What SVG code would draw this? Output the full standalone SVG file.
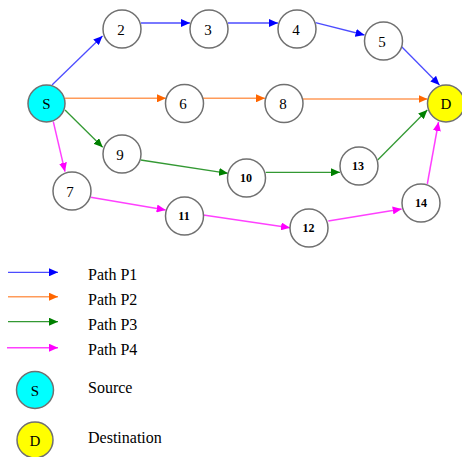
<svg xmlns="http://www.w3.org/2000/svg" width="462" height="457" viewBox="0 0 462 457">
<style>
.n{fill:#fff;stroke:#707070;stroke-width:1.5}
.t{font-family:"Liberation Serif","Times New Roman",serif;font-size:15px;fill:#000;text-anchor:middle}
.b{font-family:"Liberation Serif","Times New Roman",serif;font-size:12px;font-weight:bold;fill:#000;text-anchor:middle}
.lg{font-family:"Liberation Serif","Times New Roman",serif;font-size:16px;fill:#000}
.p1{stroke:#0000ff;stroke-opacity:0.7;stroke-width:1.3;fill:none;marker-end:url(#a1)}
.p2{stroke:#ff6600;stroke-opacity:0.65;stroke-width:1.6;fill:none;marker-end:url(#a2)}
.p3{stroke:#008000;stroke-opacity:0.8;stroke-width:1.3;fill:none;marker-end:url(#a3)}
.p4{stroke:#ff00ff;stroke-opacity:0.75;stroke-width:1.5;fill:none;marker-end:url(#a4)}
</style>
<defs>
<marker id="a1" markerUnits="userSpaceOnUse" markerWidth="10" markerHeight="8" refX="9" refY="4" orient="auto"><path d="M0,0 L9,4 L0,8 z" fill="#0000ff"/></marker>
<marker id="a2" markerUnits="userSpaceOnUse" markerWidth="10" markerHeight="8" refX="9" refY="4" orient="auto"><path d="M0,0 L9,4 L0,8 z" fill="#ff6600"/></marker>
<marker id="a3" markerUnits="userSpaceOnUse" markerWidth="10" markerHeight="8" refX="9" refY="4" orient="auto"><path d="M0,0 L9,4 L0,8 z" fill="#008000"/></marker>
<marker id="a4" markerUnits="userSpaceOnUse" markerWidth="10" markerHeight="8" refX="9" refY="4" orient="auto"><path d="M0,0 L9,4 L0,8 z" fill="#ff00ff"/></marker>
</defs>
<g id="connectors">
<line class="p1" x1="52" y1="85" x2="102.5" y2="36"/>
<line class="p1" x1="141" y1="23" x2="190" y2="23"/>
<line class="p1" x1="228" y1="23" x2="278" y2="23"/>
<line class="p1" x1="315.5" y1="22.7" x2="364.5" y2="35"/>
<line class="p1" x1="401.7" y1="46.7" x2="439.5" y2="85"/>
<line class="p2" x1="65" y1="98.3" x2="166" y2="98.3"/>
<line class="p2" x1="203" y1="98.3" x2="265" y2="98.3"/>
<line class="p2" x1="303" y1="99" x2="427.5" y2="99"/>
<line class="p3" x1="65" y1="110" x2="102.7" y2="147.3"/>
<line class="p3" x1="140.7" y1="160" x2="228" y2="173.3"/>
<line class="p3" x1="265.7" y1="172.3" x2="340" y2="172.3"/>
<line class="p3" x1="377.7" y1="160" x2="427.3" y2="110"/>
<line class="p4" x1="53.3" y1="121.7" x2="65" y2="171.7"/>
<line class="p4" x1="90.7" y1="197.3" x2="165.7" y2="210"/>
<line class="p4" x1="203.3" y1="215" x2="290" y2="227.7"/>
<line class="p4" x1="328.3" y1="221" x2="401.7" y2="209"/>
<line class="p4" x1="427.3" y1="184" x2="438.5" y2="122"/>
</g>
<g id="node-S"><circle class="n" cx="46.5" cy="103.5" r="18.5" style="fill:#00ffff"/><text class="t" x="46.5" y="109">S</text></g>
<g id="node-2"><circle class="n" cx="122" cy="29" r="19"/><text class="t" x="121" y="34.5">2</text></g>
<g id="node-3"><circle class="n" cx="209" cy="29" r="19"/><text class="t" x="208" y="34.5">3</text></g>
<g id="node-4"><circle class="n" cx="297" cy="29" r="19"/><text class="t" x="296" y="34.5">4</text></g>
<g id="node-5"><circle class="n" cx="383.5" cy="41" r="19"/><text class="t" x="382" y="46.5">5</text></g>
<g id="node-D"><circle class="n" cx="446" cy="103.5" r="18.5" style="fill:#ffff00"/><text class="t" x="446" y="109">D</text></g>
<g id="node-6"><circle class="n" cx="184.5" cy="103.5" r="19"/><text class="t" x="183" y="109">6</text></g>
<g id="node-8"><circle class="n" cx="284" cy="103.5" r="19"/><text class="t" x="283" y="109">8</text></g>
<g id="node-9"><circle class="n" cx="122" cy="154" r="19"/><text class="t" x="120" y="159.5">9</text></g>
<g id="node-7"><circle class="n" cx="72" cy="191" r="19"/><text class="t" x="70" y="196.5">7</text></g>
<g id="node-10"><circle class="n" cx="246.5" cy="178" r="19"/><text class="b" x="246" y="182">10</text></g>
<g id="node-11"><circle class="n" cx="184.5" cy="216" r="19"/><text class="b" x="184" y="220">11</text></g>
<g id="node-12"><circle class="n" cx="309" cy="228" r="19"/><text class="b" x="308.5" y="232">12</text></g>
<g id="node-13"><circle class="n" cx="359" cy="166" r="19"/><text class="b" x="358" y="170">13</text></g>
<g id="node-14"><circle class="n" cx="421" cy="203" r="19"/><text class="b" x="421" y="207">14</text></g>
<g id="legend">
<line class="p1" x1="8" y1="272.3" x2="58" y2="272.3"/>
<line class="p2" x1="8" y1="296.7" x2="58" y2="296.7"/>
<line class="p3" x1="8" y1="321.7" x2="58" y2="321.7"/>
<line class="p4" x1="7" y1="347.7" x2="58" y2="347.7"/>
<text class="lg" x="88" y="280">Path P1</text>
<text class="lg" x="88" y="305">Path P2</text>
<text class="lg" x="88" y="330">Path P3</text>
<text class="lg" x="88" y="355">Path P4</text>
<circle class="n" cx="35" cy="390" r="18.5" style="fill:#00ffff"/><text class="t" x="35" y="395.5">S</text>
<circle class="n" cx="35" cy="440" r="18" style="fill:#ffff00"/><text class="t" x="35" y="445.5">D</text>
<text class="lg" x="88" y="392.7">Source</text>
<text class="lg" x="88" y="443">Destination</text>
</g>
</svg>
